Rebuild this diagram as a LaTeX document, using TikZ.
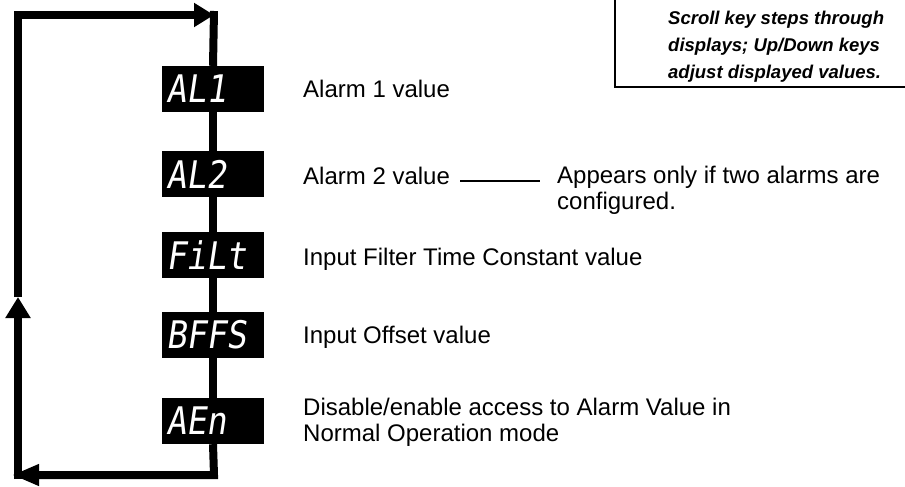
\documentclass[tikz,border=0pt]{standalone}
\usepackage{fontspec}
\setmainfont{Liberation Sans}
\newfontfamily\segfont[FakeSlant=0.15,FakeStretch=0.88]{DejaVu Sans Mono}
\usetikzlibrary{arrows.meta,positioning}

\begin{document}
\begin{tikzpicture}[x=1pt,y=-1pt,
        disp/.style={fill=black,text=white,text width=94pt,align=left,
                     inner xsep=4pt,inner ysep=0pt,minimum height=46pt,
                     font=\segfont\fontsize{38}{38}\selectfont},
        lbl/.style={anchor=base west,inner sep=0pt,align=left,
                    font=\fontsize{24}{26}\selectfont},
        flow/.style={line width=8pt,line join=miter},
        head/.style={-{Triangle[length=21pt,width=24pt]}}]

        \useasboundingbox (0,0) rectangle (905,487);

        \node[disp] (al1)  at (213,89)  {AL1};
        \node[disp] (al2)  at (213,174) {AL2};
        \node[disp] (filt) at (213,255) {FiLt};
        \node[disp] (offs) at (213,335) {BFFS};
        \node[disp] (aen)  at (213,421) {AEn};

        \node[lbl] (lal1)  at (303,97)  {Alarm 1 value};
        \node[lbl] (lal2)  at (303,184) {Alarm 2 value};
        \node[lbl] (appr)  at (557,209) {Appears only if two alarms are\\configured.};
        \node[lbl] (lfilt) at (303,265) {Input Filter Time Constant value};
        \node[lbl] (loffs) at (303,343) {Input Offset value};
        \node[lbl] (laen)  at (303,441) {Disable/enable access to Alarm Value in\\Normal Operation mode};

        \draw[line width=1.2pt,shorten <=10pt,shorten >=17pt]
              ([yshift=3pt]lal2.base east) -- ([yshift=3pt]lal2.base east -| appr.west);

        \draw[line width=2.5pt] (615,-10) -- (615,87) -- (915,87);
        \node[anchor=base west,inner sep=0pt,align=left,
              font=\fontsize{18.5}{27}\selectfont\bfseries\itshape]
              (note) at (668,78) {Scroll key steps through\\displays; Up/Down keys\\adjust displayed values.};

        \coordinate (br) at (214,475);
        \coordinate (bl) at (12,475);
        \coordinate (lb) at (18,479);
        \coordinate (lm) at (18,297);
        \coordinate (tl) at (18,15);
        \coordinate (tr) at (214,15);
        \coordinate (tc) at (214,11);

        \draw[flow] (al1) -- (al2);
        \draw[flow] (al2) -- (filt);
        \draw[flow] (filt) -- (offs);
        \draw[flow] (offs) -- (aen);
        \draw[flow,-{Triangle[length=27pt,width=20pt]}] (aen.south) -- (br) -- (bl);
        \draw[flow,head] (lb) -- (lm);
        \draw[flow,-{Triangle[length=20pt,width=23pt]}] (lm) -- (tl) -- (tr);
        \draw[flow] (tc) -- (al1.north);
\end{tikzpicture}
\end{document}
